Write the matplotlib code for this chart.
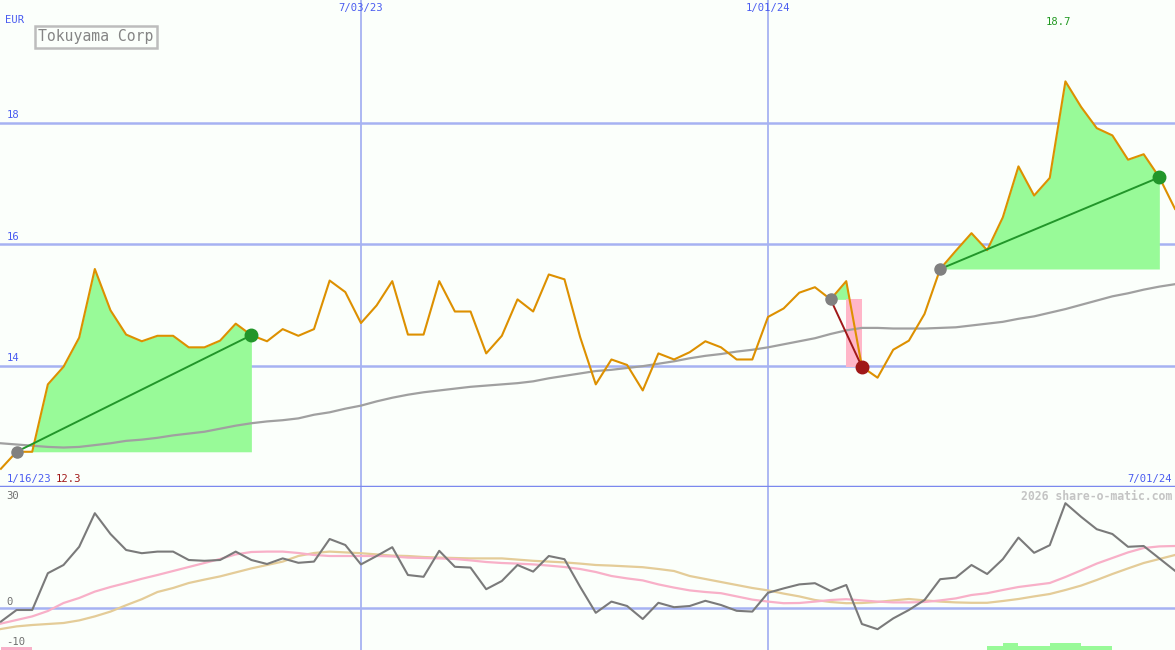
import numpy as np
import pandas as pd
import matplotlib
matplotlib.use("Agg")
import matplotlib.pyplot as plt
import matplotlib.dates as mdates
import matplotlib.transforms as mtrans

# weekly closes, 1/23/23 .. 7/01/24 (EUR)
price = [12.30, 12.58, 12.58, 13.69, 13.98, 14.46, 15.59, 14.91, 14.51, 14.40,
         14.49, 14.49, 14.30, 14.30, 14.41, 14.69, 14.50, 14.40, 14.60, 14.49,
         14.60, 15.40, 15.21, 14.70, 14.99, 15.39, 14.51, 14.51, 15.39, 14.89,
         14.89, 14.20, 14.49, 15.09, 14.89, 15.50, 15.42, 14.47, 13.69, 14.10,
         14.01, 13.59, 14.20, 14.10, 14.22, 14.40, 14.30, 14.10, 14.10, 14.80,
         14.94, 15.20, 15.29, 15.09, 15.39, 13.98, 13.80, 14.26, 14.41, 14.85,
         15.59, 15.89, 16.18, 15.90, 16.44, 17.28, 16.80, 17.09, 18.68, 18.26,
         17.91, 17.79, 17.39, 17.48, 17.10, 16.58]

# long moving average (grey line)
ma = [12.72, 12.70, 12.68, 12.66, 12.65, 12.66, 12.69, 12.72, 12.76, 12.78,
      12.81, 12.85, 12.88, 12.91, 12.96, 13.01, 13.05, 13.08, 13.10, 13.13,
      13.19, 13.23, 13.29, 13.34, 13.41, 13.47, 13.52, 13.56, 13.59, 13.62,
      13.65, 13.67, 13.69, 13.71, 13.74, 13.79, 13.83, 13.87, 13.91, 13.93,
      13.96, 13.99, 14.03, 14.07, 14.12, 14.16, 14.19, 14.23, 14.26, 14.30,
      14.35, 14.40, 14.45, 14.52, 14.58, 14.62, 14.62, 14.61, 14.61, 14.61,
      14.62, 14.63, 14.66, 14.69, 14.72, 14.77, 14.81, 14.87, 14.93, 15.00,
      15.07, 15.14, 15.19, 15.25, 15.30, 15.34]

# lower panel: oscillator and its two smoothings
osc = [-3.4, -0.5, -0.5, 8.7, 10.75, 15.3, 23.7, 18.5, 14.5, 13.7,
       14.1, 14.1, 12.0, 11.8, 12.0, 14.1, 12.0, 11.0, 12.4, 11.3,
       11.6, 17.25, 15.75, 10.9, 13.0, 15.2, 8.25, 7.8, 14.3, 10.3,
       10.1, 4.7, 6.75, 10.75, 9.1, 13.0, 12.2, 5.3, -1.2, 1.6,
       0.5, -2.75, 1.3, 0.2, 0.5, 1.8, 0.75, -0.7, -0.9, 3.8,
       4.9, 5.9, 6.2, 4.25, 5.75, -4.0, -5.3, -2.6, -0.5, 2.0,
       7.2, 7.6, 10.75, 8.5, 12.2, 17.6, 13.8, 15.7, 26.2, 22.8,
       19.7, 18.5, 15.3, 15.5, 12.4, 9.3]
osc_fast = [-3.9, -3.0, -2.1, -0.75, 1.25, 2.5, 4.1, 5.25, 6.25, 7.3,
            8.25, 9.25, 10.25, 11.25, 12.25, 13.4, 14.0, 14.1, 14.1, 13.75,
            13.25, 13.0, 13.0, 13.0, 13.0, 12.9, 12.6, 12.5, 12.4, 12.25,
            11.9, 11.5, 11.25, 11.1, 10.9, 10.6, 10.25, 9.75, 9.0, 8.0,
            7.4, 6.9, 5.9, 5.1, 4.4, 4.0, 3.7, 2.9, 2.1, 1.6,
            1.2, 1.25, 1.6, 2.0, 2.2, 1.9, 1.6, 1.4, 1.4, 1.5,
            1.9, 2.4, 3.25, 3.7, 4.5, 5.25, 5.75, 6.25, 7.75, 9.4,
            11.1, 12.5, 13.9, 15.0, 15.4, 15.5]
osc_slow = [-5.25, -4.6, -4.25, -4.0, -3.75, -3.1, -2.1, -0.9, 0.7, 2.2,
            4.0, 5.0, 6.25, 7.1, 7.9, 8.9, 9.9, 10.75, 11.6, 13.0,
            13.75, 14.1, 13.9, 13.7, 13.4, 13.1, 13.0, 12.75, 12.6, 12.5,
            12.4, 12.4, 12.4, 12.1, 11.8, 11.6, 11.4, 11.1, 10.75, 10.6,
            10.4, 10.2, 9.75, 9.25, 8.0, 7.25, 6.5, 5.75, 5.0, 4.4,
            3.6, 2.9, 2.0, 1.5, 1.2, 1.25, 1.5, 1.9, 2.25, 1.9,
            1.6, 1.4, 1.3, 1.3, 1.75, 2.25, 2.9, 3.5, 4.5, 5.6,
            7.0, 8.5, 9.9, 11.25, 12.25, 13.25]

# signal bars at the bottom (week index -> height)
buy_bars = {63: 0.9, 64: 1.75, 65: 0.9, 66: 0.9, 67: 1.75, 68: 1.75, 69: 0.9, 70: 0.9}
sell_bars = {0: 0.75, 1: 0.75}

# trade segments (start week, end week)
trades = [(1, 16), (53, 55), (60, 74)]

start = pd.Timestamp("2023-01-16")
dates = pd.date_range("2023-01-23", periods=len(price), freq="7D")
x = mdates.date2num(dates)
vlines = mdates.date2num(pd.to_datetime(["2023-07-03", "2024-01-01"]))
vlabels = ["7/03/23", "1/01/24"]

price = np.array(price)
bg = "#fbfffb"
grid_c = "#a6b2f2"
blue_txt = "#4a5cf0"
orange = "#dd9000"
W, H = 1175, 650
fs = 7.6

fig = plt.figure(figsize=(W / 100, H / 100), dpi=100, facecolor=bg)
ax = fig.add_axes([0, 163 / H, 1, 487 / H])
ax2 = fig.add_axes([0, 0, 1, 163 / H])
xl = (mdates.date2num(start) + 6.6, mdates.date2num(start) + 532)
for a in (ax, ax2):
    a.set_facecolor(bg)
    a.set_xlim(xl)
    for s in a.spines.values():
        s.set_visible(False)
    a.set_xticks([])
    a.set_yticks([])
    for v in vlines:
        a.axvline(v, color=grid_c, lw=1.3, zorder=1)

mono = "DejaVu Sans Mono"

# ---- main panel
ax.set_ylim(12, 20.02)
for lv in [14, 16, 18]:
    ax.axhline(lv, color=grid_c, lw=1.8, zorder=1)
    ax.text(0.006, lv + 0.04, str(lv), transform=mtrans.blended_transform_factory(ax.transAxes, ax.transData),
            fontsize=fs, family=mono, color=blue_txt, va="bottom", ha="left")

for s, e in trades:
    base = price[s]
    xs, ps = x[s:e + 1], price[s:e + 1]
    ax.fill_between(xs, ps, base, where=ps >= base, interpolate=True, color="#98fa98", lw=0, zorder=2)
    up = price[e] >= base
    if not up:
        ax.fill_between(x[e - 1:e + 1], base, price[e], color="#ffb6c8", lw=0, zorder=2)
    lc = "#22962a" if up else "#a01818"
    ax.plot([x[s], x[e]], [base, price[e]], color=lc, lw=1.4, zorder=4)

ax.plot(x, ma, color="#a0a0a0", lw=1.6, zorder=3)
ax.plot(x, price, color=orange, lw=1.5, zorder=3)

for s, e in trades:
    up = price[e] >= price[s]
    ax.plot(x[s], price[s], "o", color="#808080", ms=8, zorder=5)
    ax.plot(x[e], price[e], "o", color="#22962a" if up else "#a01818", ms=9, zorder=5)

ax.axhline(12, color="#7b88ee", lw=2.5, zorder=6, clip_on=False)

top_tr = mtrans.blended_transform_factory(ax.transData, ax.transAxes)
for v, lab in zip(vlines, vlabels):
    ax.text(v, 0.993, lab, transform=top_tr, fontsize=fs, family=mono, color=blue_txt, ha="center", va="top")
imax = int(np.argmax(price))
ax.text(x[imax] - 3, 0.955, f"{price.max():.1f}", transform=top_tr, fontsize=fs, family=mono,
        color="#229922", ha="center", va="center")

fig.text(5 / W, 1 - 20 / H, "EUR", fontsize=fs, family=mono, color=blue_txt, va="center", ha="left")
fig.text(38 / W, 1 - 37 / H, "Tokuyama Corp", fontsize=10.6, family=mono, color="#858585", va="center", ha="left",
         bbox=dict(boxstyle="square,pad=0.22", fc="none", ec="#bdbdbd", lw=1.8))
fig.text(7 / W, 1 - 479 / H, "1/16/23", fontsize=fs, family=mono, color=blue_txt, va="center", ha="left")
fig.text(56 / W, 1 - 479 / H, f"{price.min():.1f}", fontsize=fs, family=mono, color="#a01818", va="center", ha="left")
fig.text(1172 / W, 1 - 479 / H, "7/01/24", fontsize=fs, family=mono, color=blue_txt, va="center", ha="right")

# ---- lower panel
ax2.set_ylim(-10.5, 30.25)
ax2.axhline(0, color=grid_c, lw=1.8, zorder=1)
ax2.plot(x, osc_slow, color="#e4cc98", lw=1.6, zorder=2)
ax2.plot(x, osc_fast, color="#f8b0c8", lw=1.6, zorder=2)
ax2.plot(x, osc, color="#7a7a7a", lw=1.5, zorder=3)
ax2.bar([x[k] for k in buy_bars], list(buy_bars.values()), width=7, align="edge", bottom=-10.5,
        color="#98fa98", lw=0, zorder=2)
ax2.bar([x[k] for k in sell_bars], list(sell_bars.values()), width=7, align="edge", bottom=-10.5,
        color="#f8b0c8", lw=0, zorder=2)

for lab, yy in [("30", 496), ("0", 602), ("-10", 642)]:
    fig.text(6 / W, 1 - yy / H, lab, fontsize=fs, family=mono, color="#707070", va="center", ha="left")
fig.text(1172 / W, 1 - 496 / H, "2026 share-o-matic.com", fontsize=8.3, family=mono, color="#c4c4c4",
         va="center", ha="right", weight="bold")

fig.savefig("out.png", dpi=100, facecolor=bg)
